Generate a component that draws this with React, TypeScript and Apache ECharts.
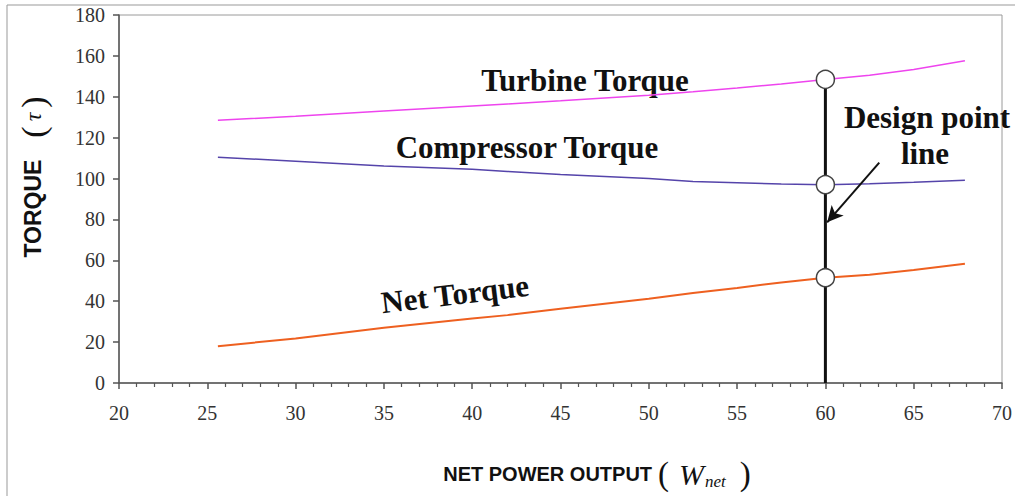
import React, { useEffect, useRef } from "react";
import * as echarts from "echarts";

const powerOutput = [25.6, 30, 35, 40, 42, 45, 50, 52.5, 55, 57.5, 60, 62.5, 65, 67.9];
const turbineTorque = [128.5, 130.5, 133, 135.5, 136.5, 138, 140.8, 142.5, 144.3, 146.3, 148.5, 150.5, 153.3, 157.6];
const compressorTorque = [110.4, 108.5, 106.2, 104.5, 103.5, 102, 100, 98.5, 98, 97.3, 97, 97.5, 98.2, 99.2];
const netTorque = [18, 21.8, 27, 31.5, 33.2, 36.3, 41.2, 44, 46.5, 49.2, 51.5, 53, 55.3, 58.3];
const designPointX = 60;
const designPoints = [148.5, 97, 51.5];
const arrowFrom = [63.05, 107.8];
const arrowTo = [60.1, 78.6];
const yTicks = { min: 0, max: 180, interval: 20 };
const xTicks = { min: 20, max: 70, interval: 5 };

const serif = "'Liberation Serif', 'Times New Roman', serif";
const sans = "'Liberation Sans', Arial, sans-serif";

export default function App() {
  const ref = useRef<HTMLDivElement>(null);
  useEffect(() => {
    document.body.style.margin = "0";
    const chart = echarts.init(ref.current!, null, { renderer: "svg" });
    const pairs = (ys: number[]) => powerOutput.map((x, i) => [x, ys[i]]);
    const label = (text: string, x: number, y: number, rotation = 0) => ({
      type: "text",
      x,
      y,
      rotation,
      style: { text, font: `bold 31px ${serif}`, fill: "#111", textAlign: "center", textVerticalAlign: "middle" },
    });
    chart.setOption({
      animation: false,
      backgroundColor: "#fff",
      grid: { left: 119, right: 3, top: 15, bottom: 113, show: true, borderColor: "#9a9a9a", borderWidth: 1 },
      xAxis: {
        type: "value",
        min: xTicks.min,
        max: xTicks.max,
        interval: xTicks.interval,
        axisLine: { show: true, lineStyle: { color: "#555", width: 1.5 } },
        axisTick: { show: true, inside: false, length: 6, lineStyle: { color: "#555", width: 1.5 } },
        minorTick: { show: true, splitNumber: 5, length: 4, lineStyle: { color: "#555", width: 1.2 } },
        splitLine: { show: false },
        axisLabel: { fontFamily: serif, fontSize: 20, color: "#333", margin: 20 },
      },
      yAxis: {
        type: "value",
        min: yTicks.min,
        max: yTicks.max,
        interval: yTicks.interval,
        axisLine: { show: true, lineStyle: { color: "#555", width: 1.5 } },
        axisTick: { show: true, length: 6, lineStyle: { color: "#555", width: 1.5 } },
        splitLine: { show: false },
        axisLabel: { fontFamily: serif, fontSize: 20, color: "#333", margin: 14 },
      },
      series: [
        {
          name: "Turbine Torque",
          type: "line",
          data: pairs(turbineTorque),
          showSymbol: false,
          lineStyle: { color: "#ee44ee", width: 1.5 },
        },
        {
          name: "Compressor Torque",
          type: "line",
          data: pairs(compressorTorque),
          showSymbol: false,
          lineStyle: { color: "#5544aa", width: 1.5 },
        },
        {
          name: "Net Torque",
          type: "line",
          data: pairs(netTorque),
          showSymbol: false,
          lineStyle: { color: "#ee6020", width: 2 },
          markLine: {
            silent: true,
            symbol: ["none", "arrow"],
            symbolSize: [12, 16],
            label: { show: false },
            lineStyle: { color: "#111", width: 2, type: "solid" },
            data: [[{ coord: arrowFrom }, { coord: arrowTo }]],
          },
        },
        {
          name: "Design point line",
          type: "line",
          data: [[designPointX, 0], [designPointX, designPoints[0]]],
          showSymbol: false,
          lineStyle: { color: "#111", width: 3 },
          z: 3,
        },
        {
          name: "Design points",
          type: "scatter",
          data: designPoints.map((y) => [designPointX, y]),
          symbol: "circle",
          symbolSize: 18,
          itemStyle: { color: "#fff", borderColor: "#444", borderWidth: 1.5, opacity: 1 },
          z: 5,
        },
      ],
      graphic: [
        { type: "rect", shape: { x: 7, y: 5, width: 1020, height: 520 }, style: { fill: "none", stroke: "#999", lineWidth: 1 }, silent: true },
        label("Turbine Torque", 585, 80),
        label("Compressor Torque", 527, 147),
        label("Net Torque", 455, 294, 0.12),
        label("Design point", 927, 117),
        label("line", 925, 153),
        {
          type: "text",
          x: 33,
          y: 177,
          rotation: Math.PI / 2,
          style: {
            text: "{a|TORQUE}{p|(}{t|τ}{p|)}",
            textAlign: "center",
            textVerticalAlign: "middle",
            rich: {
              a: { font: `bold 23px ${sans}`, fill: "#111", padding: [0, 22, 0, 0] },
              p: { font: `34px ${serif}`, fill: "#111" },
              t: { font: `italic 24px ${serif}`, fill: "#111", padding: [0, 5] },
            },
          },
        },
        {
          type: "text",
          x: 597,
          y: 474,
          style: {
            text: "{a|NET POWER OUTPUT}{p|(}{w|W}{s|net}{p|)}",
            textAlign: "center",
            textVerticalAlign: "middle",
            rich: {
              a: { font: `bold 20px ${sans}`, fill: "#111", padding: [0, 6, 0, 0] },
              p: { font: `33px ${serif}`, fill: "#111" },
              w: { font: `italic 30px ${serif}`, fill: "#111", padding: [0, 0, 0, 10] },
              s: { font: `italic 17px ${serif}`, fill: "#111", padding: [14, 14, 0, 1] },
            },
          },
        },
      ],
    });
    return () => chart.dispose();
  }, []);
  return <div ref={ref} style={{ position: "fixed", left: 0, top: 0, width: 1015, height: 496 }} />;
}
